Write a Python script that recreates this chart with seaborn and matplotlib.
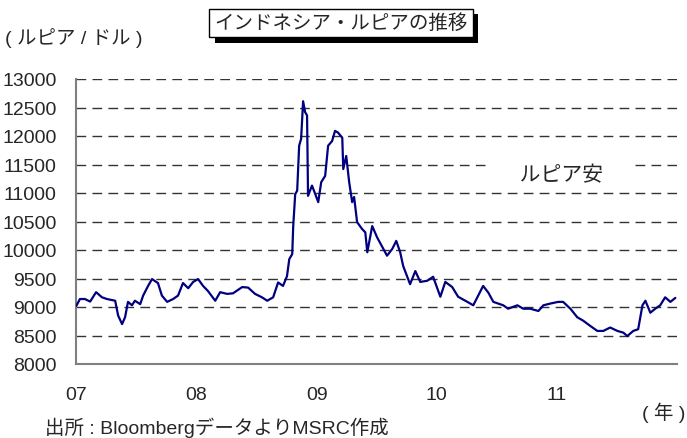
import matplotlib
matplotlib.use("Agg")
import matplotlib.pyplot as plt
import matplotlib.patheffects as pe
import pandas as pd
import seaborn as sns

# ルピア/ドル (読み取り値)
dates = [
    "2007-01-02", "2007-01-13", "2007-01-28", "2007-02-13", "2007-03-03", "2007-03-21",
    "2007-04-05", "2007-04-30", "2007-05-09", "2007-05-21", "2007-05-30", "2007-06-08",
    "2007-06-20", "2007-06-29", "2007-07-15", "2007-07-24", "2007-08-08", "2007-08-20",
    "2007-09-07", "2007-09-19", "2007-10-05", "2007-10-23", "2007-11-07", "2007-11-22",
    "2007-12-08", "2007-12-23", "2008-01-07", "2008-01-22", "2008-02-06", "2008-02-28",
    "2008-03-14", "2008-04-04", "2008-04-22", "2008-05-20", "2008-06-07", "2008-06-28",
    "2008-07-19", "2008-08-04", "2008-08-22", "2008-09-06", "2008-09-21", "2008-10-03",
    "2008-10-10", "2008-10-19", "2008-10-22", "2008-10-28", "2008-11-03", "2008-11-09",
    "2008-11-15", "2008-11-21", "2008-11-27", "2008-12-03", "2008-12-06", "2008-12-18",
    "2008-12-28", "2009-01-06", "2009-01-15", "2009-01-27", "2009-02-05", "2009-02-17",
    "2009-02-26", "2009-03-07", "2009-03-20", "2009-03-23", "2009-04-01", "2009-04-10",
    "2009-04-19", "2009-04-25", "2009-05-04", "2009-05-19", "2009-05-29", "2009-06-04",
    "2009-06-19", "2009-07-04", "2009-08-03", "2009-08-19", "2009-08-31", "2009-09-12",
    "2009-09-21", "2009-10-12", "2009-10-28", "2009-11-12", "2009-12-03", "2009-12-21",
    "2010-01-12", "2010-01-27", "2010-02-17", "2010-03-07", "2010-04-04", "2010-04-22",
    "2010-05-07", "2010-05-22", "2010-06-07", "2010-06-22", "2010-07-22", "2010-08-06",
    "2010-09-03", "2010-09-21", "2010-10-12", "2010-11-06", "2010-11-21", "2010-12-12",
    "2011-01-05", "2011-01-20", "2011-02-11", "2011-03-04", "2011-03-22", "2011-04-12",
    "2011-05-04", "2011-05-22", "2011-06-12", "2011-07-04", "2011-07-22", "2011-08-03",
    "2011-08-21", "2011-09-05", "2011-09-18", "2011-09-27", "2011-10-12", "2011-10-27",
    "2011-11-11", "2011-11-26", "2011-12-12", "2011-12-27",
]
rates = [
    9020, 9140, 9140, 9095, 9260, 9170,
    9140, 9110, 8850, 8700, 8820, 9090,
    9030, 9110, 9050, 9200, 9370, 9490,
    9420, 9200, 9090, 9140, 9200, 9420,
    9330, 9440, 9490, 9370, 9280, 9110,
    9260, 9230, 9240, 9350, 9340, 9230,
    9170, 9110, 9170, 9430, 9370, 9540,
    9840, 9930, 10420, 10980, 11040, 11830,
    11950, 12610, 12420, 12360, 10950, 11130,
    10980, 10840, 11190, 11300, 11830, 11910,
    12090, 12060, 11970, 11420, 11650, 11190,
    10840, 10930, 10490, 10370, 10310, 9960,
    10420, 10220, 9900, 10020, 10160, 9960,
    9720, 9400, 9630, 9440, 9460, 9530,
    9180, 9440, 9350, 9180, 9090, 9030,
    9200, 9370, 9250, 9090, 9030, 8970,
    9030, 8970, 8970, 8930, 9030, 9060,
    9090, 9090, 8970, 8820, 8760, 8670,
    8580, 8580, 8640, 8580, 8550, 8490,
    8580, 8610, 9030, 9110, 8900, 8970,
    9030, 9170, 9090, 9160,
]
year_ticks = ["2007-01-01", "2008-01-01", "2009-01-01", "2010-01-01", "2011-01-01"]
year_labels = ["07", "08", "09", "10", "11"]
y_ticks = list(range(8000, 13001, 500))

df = pd.DataFrame({"date": pd.to_datetime(dates), "rate": rates})

sns.set_style("white")
plt.rcParams["font.family"] = ["Liberation Sans", "Noto Sans CJK JP", "DejaVu Sans"]

fig = plt.figure(figsize=(6.87, 4.39), dpi=100)
ax = fig.add_axes([76 / 687, 1 - 365 / 439, 601 / 687, 285 / 439])

# 破線の目盛線
for v in y_ticks[1:]:
    ax.axhline(v, color="#333333", lw=1, dashes=(7, 4.5), zorder=1)

sns.lineplot(data=df, x="date", y="rate", color="#000080", lw=1.6, ax=ax, zorder=3)

ax.set_xlim(pd.Timestamp("2007-01-01"), pd.Timestamp("2012-01-01"))
ax.set_ylim(8000, 13000)
ax.set_yticks(y_ticks)
ax.set_yticklabels([str(v) for v in y_ticks], fontsize=14)
ax.set_xticks(pd.to_datetime(year_ticks))
ax.set_xticklabels(year_labels, fontsize=14)
ax.tick_params(axis="x", direction="in", length=5, width=1, color="#333333", pad=16)
ax.tick_params(axis="y", length=0, pad=14)
ax.set_xlabel("")
ax.set_ylabel("")

for s in ["top", "right"]:
    ax.spines[s].set_visible(False)
for s in ["left", "bottom"]:
    ax.spines[s].set_color("#808080")
    ax.spines[s].set_linewidth(1.5)

ax.text(0.807, 0.663, "\u3000 ルピア安 \u3000", transform=ax.transAxes, fontsize=15,
        ha="center", va="center",
        bbox=dict(boxstyle="square,pad=0.2", fc="white", ec="none"), zorder=4)

t = fig.text(341 / 687, 1 - 24 / 439, "インドネシア・ルピアの推移", fontsize=14,
             ha="center", va="center",
             bbox=dict(boxstyle="square,pad=0.25", fc="white", ec="black", lw=1))
t.get_bbox_patch().set_path_effects([
    pe.withSimplePatchShadow(offset=(4, -4), shadow_rgbFace="black", alpha=1)
])

fig.text(5 / 687, 1 - 38 / 439, "( ルピア / ドル )", fontsize=14, ha="left", va="center")
fig.text(685 / 687, 1 - 413 / 439, "( 年 )", fontsize=14, ha="right", va="center")
fig.text(45 / 687, 1 - 428 / 439, "出所 : BloombergデータよりMSRC作成", fontsize=14,
         ha="left", va="center")

fig.savefig("out.png", dpi=100)
